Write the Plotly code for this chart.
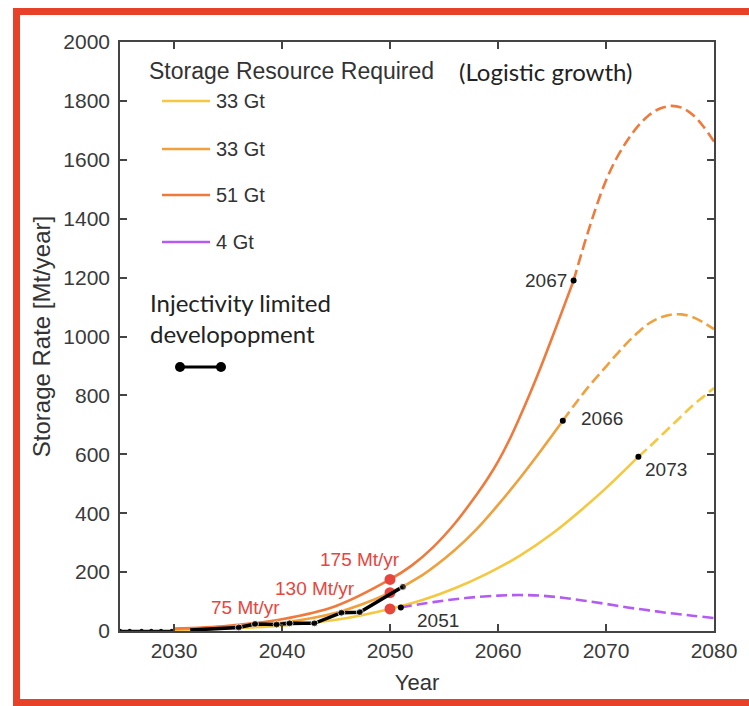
import plotly.graph_objects as go

# ---- scenario curves (storage rate, Mt/year) ----
years_51_solid = [2030, 2035, 2040, 2045, 2050, 2052, 2054, 2056, 2058, 2059, 2060, 2061, 2062,
                  2063, 2064, 2065, 2066, 2067]
rate_51_solid = [8, 18, 40, 85, 175, 222, 285, 365, 462, 515, 575, 645, 725,
                 810, 900, 995, 1092, 1190]
years_51_dash = [2067, 2068, 2069, 2070, 2071, 2072, 2073, 2074, 2075, 2076, 2077, 2078, 2079, 2080]
rate_51_dash = [1190, 1315, 1430, 1530, 1607, 1667, 1716, 1752, 1774, 1783, 1777, 1754, 1714, 1662]

years_33b_solid = [2030, 2035, 2040, 2045, 2050, 2053, 2056, 2058, 2060, 2062, 2064, 2066]
rate_33b_solid = [6, 13, 28, 62, 130, 190, 275, 345, 428, 518, 614, 714]
years_33b_dash = [2066, 2067, 2068, 2069, 2070, 2071, 2072, 2073, 2074, 2075, 2076, 2077, 2078, 2079, 2080]
rate_33b_dash = [714, 764, 812, 856, 898, 940, 980, 1015, 1045, 1064, 1074, 1075, 1066, 1048, 1025]

years_33a_solid = [2030, 2035, 2040, 2045, 2050, 2053, 2056, 2059, 2062, 2065, 2068, 2070, 2073]
rate_33a_solid = [4, 9, 18, 38, 75, 105, 145, 195, 255, 330, 420, 485, 592]
years_33a_dash = [2073, 2074, 2075, 2076, 2077, 2078, 2079, 2080]
rate_33a_dash = [592, 625, 660, 695, 730, 765, 795, 825]

years_4 = [2051, 2054, 2057, 2060, 2062, 2064, 2066, 2068, 2070, 2072, 2074, 2076, 2078, 2080]
rate_4 = [80, 98, 112, 120, 122, 120, 113, 103, 92, 80, 70, 60, 52, 44]

# ---- injectivity limited development ----
years_early = [2025, 2025.9, 2027, 2027.9, 2028.8, 2029.8]
rate_early = [1, 1, 1, 1, 1, 1]
years_inj = [2031.5, 2036, 2037.5, 2039.5, 2040.7, 2043, 2045.5, 2047.2, 2050, 2051.2]
rate_inj = [3, 12, 24, 22, 26, 26, 62, 64, 125, 150]
inj_marker = [0, 7, 7, 7, 7, 7, 7, 7, 0, 7]

# ---- 2050 targets and switch-over points ----
target_years = [2050, 2050, 2050]
target_rates = [175, 130, 75]
target_labels = ["175 Mt/yr", "130 Mt/yr", "75 Mt/yr"]

switch_years = [2067, 2066, 2073, 2051]
switch_rates = [1190, 714, 592, 80]
switch_labels = ["2067", "2066", "2073", "2051"]

legend_labels = ["33 Gt", "33 Gt", "51 Gt", "4 Gt"]

YELLOW = "#F5C842"
ORANGE = "#F0A03C"
RED_OR = "#EF7A3C"
PURPLE = "#B45CF2"
TARGET_RED = "#E8453C"
FRAME_RED = "#E8412A"
legend_colors = [YELLOW, ORANGE, RED_OR, PURPLE]

SANS = "Liberation Sans, Arial, sans-serif"
ROUND = "Lato, Open Sans, sans-serif"
DASH = "11px,5px"

fig = go.Figure()


def curve(x, y, color, dash=None):
    fig.add_trace(go.Scatter(
        x=x, y=y, mode="lines", line_shape="spline",
        line=dict(color=color, width=2.6, dash=dash), hoverinfo="skip",
        showlegend=False))


curve(years_33a_solid, rate_33a_solid, YELLOW)
curve(years_33a_dash, rate_33a_dash, YELLOW, DASH)
curve(years_33b_solid, rate_33b_solid, ORANGE)
curve(years_33b_dash, rate_33b_dash, ORANGE, DASH)
curve(years_51_solid, rate_51_solid, RED_OR)
curve(years_51_dash, rate_51_dash, RED_OR, DASH)
curve(years_4, rate_4, PURPLE, DASH)

# 2050 targets
fig.add_trace(go.Scatter(
    x=target_years, y=target_rates, mode="markers",
    marker=dict(color=TARGET_RED, size=11), showlegend=False))

# early pilot phase and injectivity limited build-out
fig.add_trace(go.Scatter(
    x=years_early, y=rate_early, mode="lines+markers",
    line=dict(color="#111", width=2), marker=dict(color="#111", size=4),
    showlegend=False))
fig.add_trace(go.Scatter(
    x=years_inj, y=rate_inj, mode="lines+markers",
    line=dict(color="black", width=3.5),
    marker=dict(color="black", size=inj_marker), showlegend=False))

# switch-over points
fig.add_trace(go.Scatter(
    x=switch_years, y=switch_rates, mode="markers",
    marker=dict(color="black", size=6), showlegend=False))

annotations = []
label_pos = {
    "2067": dict(xanchor="right", xshift=-5, yshift=0),
    "2066": dict(xanchor="left", xshift=16, yshift=2),
    "2073": dict(xanchor="left", xshift=5, yshift=-13),
    "2051": dict(xanchor="left", xshift=14, yshift=-13),
}
for x, y, t in zip(switch_years, switch_rates, switch_labels):
    p = label_pos[t]
    annotations.append(dict(
        x=x, y=y, xref="x", yref="y", text=t, showarrow=False,
        xanchor=p["xanchor"], yanchor="middle", xshift=p["xshift"],
        yshift=p["yshift"], font=dict(family=SANS, size=19, color="#333")))

target_pos = [(-30, 20), (-75, 4), (-145, 1)]
for x, y, t, (dx, dy) in zip(target_years, target_rates, target_labels, target_pos):
    annotations.append(dict(
        x=x, y=y, xref="x", yref="y", text=t, showarrow=False,
        xanchor="center", yanchor="middle", xshift=dx, yshift=dy,
        font=dict(family=SANS, size=19, color=TARGET_RED)))

# plot-area pixel box used for the hand-built legend and frame
PL, PR, PT, PB = 120, 714, 42, 631


def xp(px):
    return (px - PL) / (PR - PL)


def yp(py):
    return (PB - py) / (PB - PT)


shapes = []
annotations.append(dict(
    x=xp(147), y=yp(71), xref="paper", yref="paper", text="Storage Resource Required",
    showarrow=False, xanchor="left", yanchor="middle",
    font=dict(family=SANS, size=23, color="#333")))
annotations.append(dict(
    x=xp(457), y=yp(71), xref="paper", yref="paper", text="(Logistic growth)",
    showarrow=False, xanchor="left", yanchor="middle",
    font=dict(family=ROUND, size=24, color="#222")))
for i, (lab, col) in enumerate(zip(legend_labels, legend_colors)):
    ly = [101, 149, 195, 242][i]
    shapes.append(dict(type="line", xref="paper", yref="paper",
                       x0=xp(162), x1=xp(210), y0=yp(ly), y1=yp(ly),
                       line=dict(color=col, width=2.6)))
    annotations.append(dict(
        x=xp(214), y=yp(ly), xref="paper", yref="paper", text=lab,
        showarrow=False, xanchor="left", yanchor="middle",
        font=dict(family=SANS, size=20, color="#333")))

annotations.append(dict(
    x=xp(148), y=yp(318), xref="paper", yref="paper",
    text="Injectivity limited<br>developopment", showarrow=False,
    xanchor="left", yanchor="middle", align="left",
    font=dict(family=ROUND, size=24, color="#222")))
shapes.append(dict(type="line", xref="paper", yref="paper",
                   x0=xp(180), x1=xp(221), y0=yp(367), y1=yp(367),
                   line=dict(color="black", width=3)))
for cx in (180, 221):
    shapes.append(dict(type="circle", xref="paper", yref="paper",
                       x0=xp(cx - 5), x1=xp(cx + 5), y0=yp(367 + 5), y1=yp(367 - 5),
                       fillcolor="black", line=dict(color="black", width=0)))

# red frame around the figure
for x0, x1, y0, y1 in [(13, 20, 8, 706), (13, 749, 8, 15), (13, 749, 699, 706)]:
    shapes.append(dict(type="rect", xref="paper", yref="paper",
                       x0=xp(x0), x1=xp(x1), y0=yp(y1), y1=yp(y0),
                       fillcolor=FRAME_RED, line=dict(width=0), layer="above"))

axis_common = dict(
    showline=True, linecolor="#444", linewidth=1.6, mirror="ticks",
    ticks="inside", ticklen=7, tickwidth=1.5, tickcolor="#444",
    showgrid=False, zeroline=False,
    tickfont=dict(family=SANS, size=21, color="#3a3a3a"),
)

fig.update_layout(
    width=749, height=706,
    margin=dict(l=PL, r=749 - PR, t=PT, b=706 - PB),
    paper_bgcolor="white", plot_bgcolor="white",
    xaxis=dict(range=[2025, 2080], tickvals=[2030, 2040, 2050, 2060, 2070, 2080],
               title=dict(text="Year", standoff=14,
                          font=dict(family=SANS, size=22, color="#333")),
               **axis_common),
    yaxis=dict(range=[0, 2000], tickvals=list(range(0, 2001, 200)),
               ticklabelstandoff=4,
               title=dict(text="Storage Rate [Mt/year]", standoff=6,
                          font=dict(family=SANS, size=24, color="#333")),
               **axis_common),
    annotations=annotations, shapes=shapes, showlegend=False,
)

fig.write_html("out.html")
